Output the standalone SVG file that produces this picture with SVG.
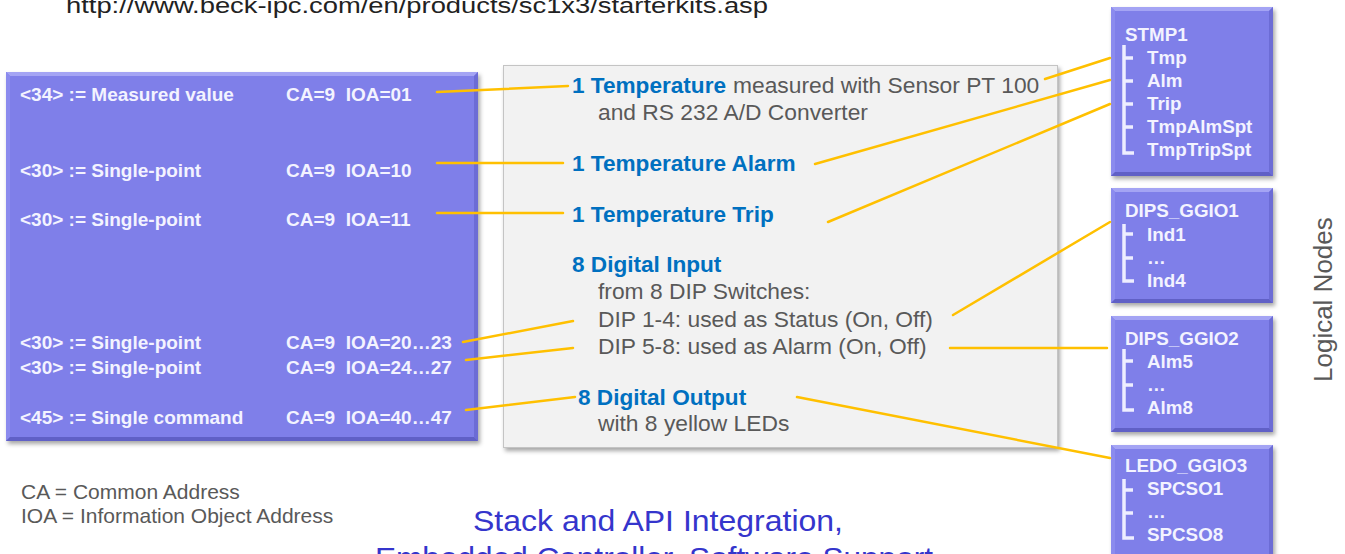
<svg xmlns="http://www.w3.org/2000/svg" width="1345" height="554" viewBox="0 0 1345 554">
<defs>
<filter id="sh" x="-5%" y="-5%" width="115%" height="115%">
<feDropShadow dx="2" dy="3" stdDeviation="2" flood-color="#000" flood-opacity="0.35"/>
</filter>
<style>
.pb{fill:#7f7fe9}
.bt{fill:#a4a4f4}
.bl{fill:#8b8bee}
.br{fill:#6c6cd5}
.bb{fill:#6060c6}
.wt{font-family:"Liberation Sans",Arial,sans-serif;font-weight:bold;fill:#f3f3ff}
.lt{font-size:19px}
.nt{font-size:18.8px}
.tree{fill:none;stroke:#eeeeff;stroke-width:3.5;stroke-linecap:butt}
.blue{font-family:"Liberation Sans",Arial,sans-serif;font-weight:bold;font-size:22.6px;fill:#0070c0}
.gray{font-family:"Liberation Sans",Arial,sans-serif;font-size:22.8px;fill:#595959}
.leg{font-family:"Liberation Sans",Arial,sans-serif;font-size:21px;fill:#595959}
.con{fill:none;stroke:#ffc000;stroke-width:2.5;stroke-linecap:round}
.ttl{font-family:"Liberation Sans",Arial,sans-serif;font-size:30px;fill:#3535cc}
</style>
</defs>
<rect width="1345" height="554" fill="#ffffff"/>

<text x="66" y="13" font-family="Liberation Sans, Arial, sans-serif" font-size="22" fill="#222" textLength="702" lengthAdjust="spacingAndGlyphs">http://www.beck-ipc.com/en/products/sc1x3/starterkits.asp</text>

<g id="iec104">
<g filter="url(#sh)"><rect class="pb" x="6" y="72" width="472" height="369"/></g>
<polygon class="bt" points="6,72 478,72 474,76 10,76"/>
<polygon class="bl" points="6,72 10,76 10,437 6,441"/>
<polygon class="br" points="478,72 478,441 474,437 474,76"/>
<polygon class="bb" points="6,441 478,441 474,437 10,437"/>
<g class="wt lt">
<text x="20" y="101">&lt;34&gt; := Measured value</text>
<text x="286" y="101">CA=9&#160; IOA=01</text>
<text x="20" y="177">&lt;30&gt; := Single-point</text>
<text x="286" y="177">CA=9&#160; IOA=10</text>
<text x="20" y="226">&lt;30&gt; := Single-point</text>
<text x="286" y="226">CA=9&#160; IOA=11</text>
<text x="20" y="349">&lt;30&gt; := Single-point</text>
<text x="286" y="349">CA=9&#160; IOA=20…23</text>
<text x="20" y="374">&lt;30&gt; := Single-point</text>
<text x="286" y="374">CA=9&#160; IOA=24…27</text>
<text x="20" y="424">&lt;45&gt; := Single command</text>
<text x="286" y="424">CA=9&#160; IOA=40…47</text>
</g>
</g>

<g id="io">
<g filter="url(#sh)"><rect x="503.5" y="65.5" width="554" height="382" fill="#f2f2f2" stroke="#c4c4c4" stroke-width="1"/></g>
<text x="572" y="93"><tspan class="blue">1 Temperature</tspan><tspan class="gray" x="733">measured with Sensor PT 100</tspan></text>
<text class="gray" x="598" y="120">and RS 232 A/D Converter</text>
<text class="blue" x="572" y="171">1 Temperature Alarm</text>
<text class="blue" x="572" y="222">1 Temperature Trip</text>
<text class="blue" x="572" y="272">8 Digital Input</text>
<text class="gray" x="598" y="299">from 8 DIP Switches:</text>
<text class="gray" x="598" y="327">DIP 1-4: used as Status (On, Off)</text>
<text class="gray" x="598" y="354">DIP 5-8: used as Alarm (On, Off)</text>
<text class="blue" x="578" y="405">8 Digital Output</text>
<text class="gray" x="598" y="431">with 8 yellow LEDs</text>
</g>

<g id="stmp1">
<g filter="url(#sh)"><rect class="pb" x="1111" y="7" width="162" height="169"/></g>
<polygon class="bt" points="1111,7 1273,7 1269,11 1115,11"/>
<polygon class="bl" points="1111,7 1115,11 1115,172 1111,176"/>
<polygon class="br" points="1273,7 1273,176 1269,172 1269,11"/>
<polygon class="bb" points="1111,176 1273,176 1269,172 1115,172"/>
<path class="tree" d="M1124,45 V153 H1134 M1124,58 H1133 M1124,81 H1133 M1124,104 H1133 M1124,127 H1133"/>
<g class="wt nt">
<text x="1125" y="41">STMP1</text>
<text x="1147" y="64">Tmp</text>
<text x="1147" y="87">Alm</text>
<text x="1147" y="110">Trip</text>
<text x="1147" y="133">TmpAlmSpt</text>
<text x="1147" y="156">TmpTripSpt</text>
</g>
</g>

<g id="dips_ggio1">
<g filter="url(#sh)"><rect class="pb" x="1111" y="188" width="162" height="115"/></g>
<polygon class="bt" points="1111,188 1273,188 1269,192 1115,192"/>
<polygon class="bl" points="1111,188 1115,192 1115,299 1111,303"/>
<polygon class="br" points="1273,188 1273,303 1269,299 1269,192"/>
<polygon class="bb" points="1111,303 1273,303 1269,299 1115,299"/>
<path class="tree" d="M1124,224 V281 H1134 M1124,234 H1133 M1124,258 H1133"/>
<g class="wt nt">
<text x="1125" y="217">DIPS_GGIO1</text>
<text x="1147" y="241">Ind1</text>
<text x="1147" y="264">…</text>
<text x="1147" y="287">Ind4</text>
</g>
</g>

<g id="dips_ggio2">
<g filter="url(#sh)"><rect class="pb" x="1111" y="316" width="162" height="116"/></g>
<polygon class="bt" points="1111,316 1273,316 1269,320 1115,320"/>
<polygon class="bl" points="1111,316 1115,320 1115,428 1111,432"/>
<polygon class="br" points="1273,316 1273,432 1269,428 1269,320"/>
<polygon class="bb" points="1111,432 1273,432 1269,428 1115,428"/>
<path class="tree" d="M1124,349 V410 H1134 M1124,361 H1133 M1124,385 H1133"/>
<g class="wt nt">
<text x="1125" y="345">DIPS_GGIO2</text>
<text x="1147" y="368">Alm5</text>
<text x="1147" y="391">…</text>
<text x="1147" y="414">Alm8</text>
</g>
</g>

<g id="ledo_ggio3">
<g filter="url(#sh)"><rect class="pb" x="1111" y="445" width="162" height="120"/></g>
<polygon class="bt" points="1111,445 1273,445 1269,449 1115,449"/>
<polygon class="bl" points="1111,445 1115,449 1115,565 1111,565"/>
<polygon class="br" points="1273,445 1273,565 1269,565 1269,449"/>
<path class="tree" d="M1124,479 V538 H1134 M1124,490 H1133 M1124,513 H1133"/>
<g class="wt nt">
<text x="1125" y="472">LEDO_GGIO3</text>
<text x="1147" y="495">SPCSO1</text>
<text x="1147" y="518">…</text>
<text x="1147" y="541">SPCSO8</text>
</g>
</g>

<g id="connectors">
<line class="con" x1="437" y1="92" x2="568" y2="86"/>
<line class="con" x1="437" y1="163" x2="563" y2="163"/>
<line class="con" x1="437" y1="213" x2="563" y2="213"/>
<line class="con" x1="463" y1="342" x2="573" y2="321"/>
<line class="con" x1="466" y1="360" x2="573" y2="348"/>
<line class="con" x1="466" y1="410" x2="575" y2="397"/>
<line class="con" x1="1045" y1="79" x2="1110" y2="58"/>
<line class="con" x1="815" y1="164" x2="1110" y2="80"/>
<line class="con" x1="828" y1="222" x2="1110" y2="104"/>
<line class="con" x1="953" y1="315" x2="1110" y2="222"/>
<line class="con" x1="950" y1="348" x2="1107" y2="348"/>
<line class="con" x1="797" y1="397" x2="1110" y2="458"/>
</g>

<g id="legend">
<text class="leg" x="21" y="499">CA = Common Address</text>
<text class="leg" x="21" y="523">IOA = Information Object Address</text>
</g>

<text x="1332" y="382" transform="rotate(-90 1332 382)" font-family="Liberation Sans, Arial, sans-serif" font-size="26" fill="#595959">Logical Nodes</text>

<g id="title">
<text class="ttl" x="473" y="531" textLength="370" lengthAdjust="spacingAndGlyphs">Stack and API Integration,</text>
<text class="ttl" x="375" y="568" textLength="558" lengthAdjust="spacingAndGlyphs">Embedded Controller, Software Support</text>
</g>
</svg>
